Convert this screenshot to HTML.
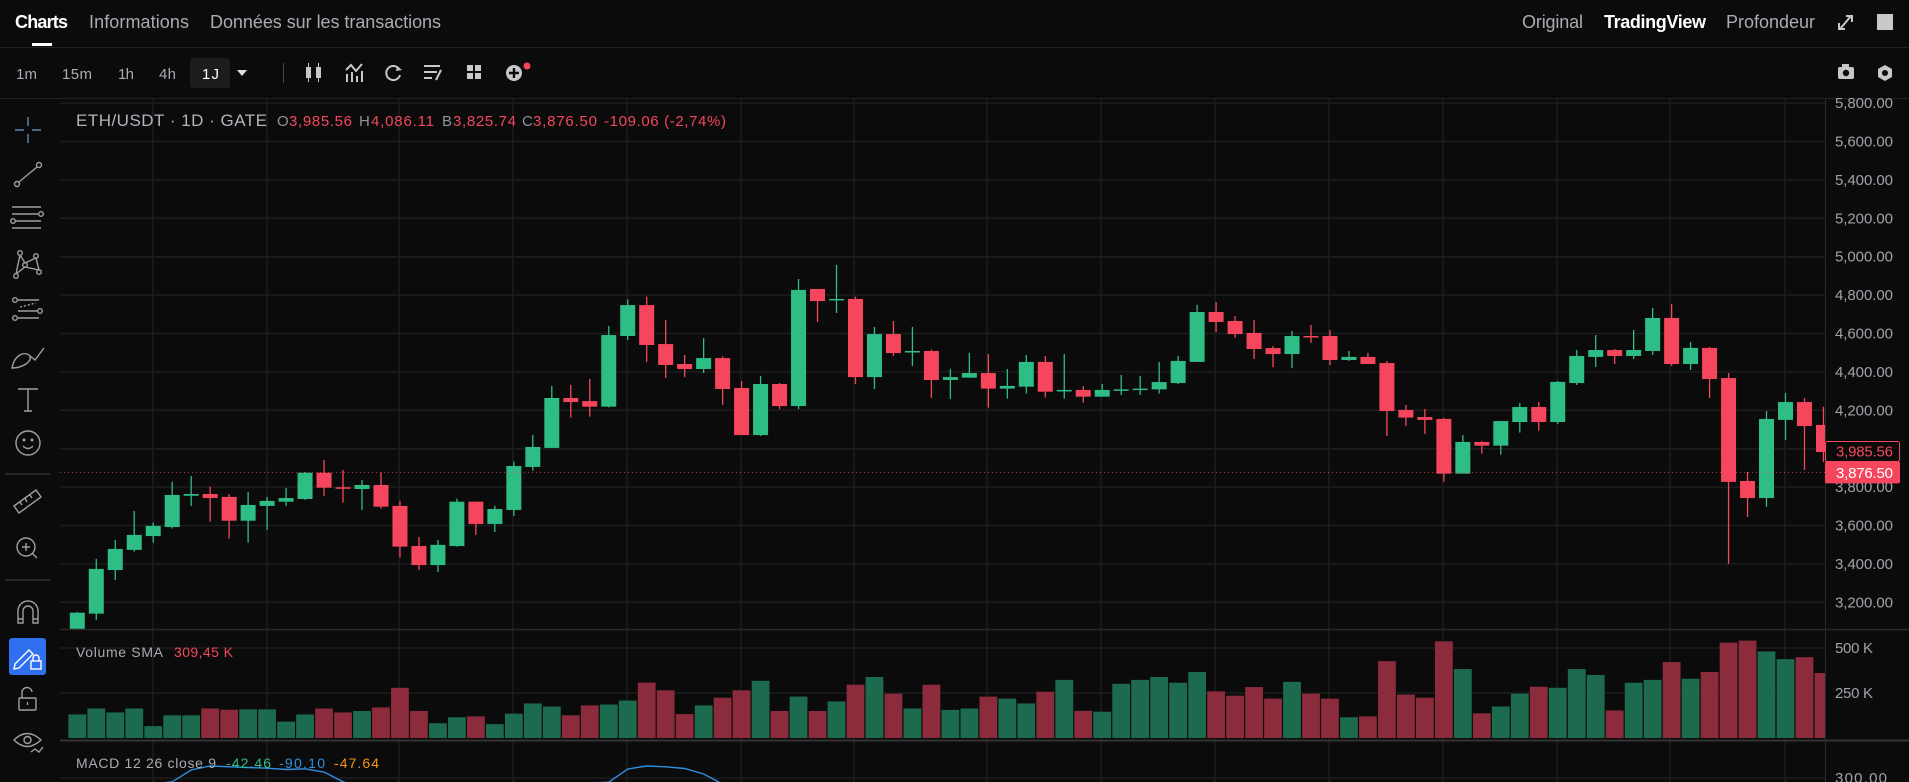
<!DOCTYPE html>
<html><head><meta charset="utf-8"><style>
html,body{margin:0;padding:0;background:#0b0b0b;overflow:hidden}
svg{display:block;font-family:"Liberation Sans",sans-serif}
</style></head><body>
<svg id="s" width="1909" height="782" viewBox="0 0 1909 782" xmlns="http://www.w3.org/2000/svg">
<rect x="0" y="0" width="1909" height="782" fill="#0b0b0b"/>
<!-- top nav -->
<g>
<text x="15" y="28" font-size="18" font-weight="bold" fill="#ffffff" textLength="53">Charts</text>
<rect x="32" y="43" width="20" height="3" fill="#ffffff"/>
<text x="89" y="28" font-size="18" fill="#a9acb3" textLength="100">Informations</text>
<text x="210" y="28" font-size="18" fill="#a9acb3" textLength="231">Données sur les transactions</text>
<text x="1522" y="28" font-size="18" fill="#a9acb3" textLength="61">Original</text>
<text x="1604" y="28" font-size="18" font-weight="bold" fill="#ffffff" textLength="102">TradingView</text>
<text x="1726" y="28" font-size="18" fill="#a9acb3" textLength="89">Profondeur</text>
<g stroke="#c8c8c8" stroke-width="2" fill="none"><path d="M1840 29 L1851 16 M1846 16 H1852 V22 M1839 23 V29 H1845"/></g>
<rect x="1877" y="14" width="16" height="16" fill="#c8c8c8"/>
<line x1="0" y1="47.5" x2="1909" y2="47.5" stroke="#222"/>
</g>
<!-- toolbar -->
<g font-size="15" fill="#a9acb3">
<text x="16" y="79" textLength="21">1m</text>
<text x="62" y="79" textLength="30">15m</text>
<text x="118" y="79" textLength="16">1h</text>
<text x="159" y="79" textLength="17">4h</text>
<rect x="190" y="58" width="40" height="30" rx="3" fill="#1c1c1c"/>
<text x="202" y="79" textLength="17" fill="#ffffff">1J</text>
<path d="M237 70 H247 L242 76 Z" fill="#e0e0e0"/>
<line x1="283.5" y1="63" x2="283.5" y2="83" stroke="#444"/>
<g fill="#c8c8c8"><rect x="306" y="67" width="5" height="11"/><rect x="316" y="67" width="5" height="11"/><rect x="308" y="63" width="1" height="19"/><rect x="318" y="63" width="1" height="19"/></g>
<g stroke="#c8c8c8" stroke-width="2" fill="none"><path d="M346 70 L351 65 L356 71 L362 64"/><path d="M347 82 V74 M352 82 V72 M357 82 V76 M362 82 V71"/></g>
<path d="M399 69 A7 7 0 1 0 400 75" stroke="#c8c8c8" stroke-width="2" fill="none"/>
<path d="M397 66 L402 70 L396 71 Z" fill="#c8c8c8"/>
<g stroke="#c8c8c8" stroke-width="2"><line x1="424" y1="66" x2="440" y2="66"/><line x1="424" y1="72" x2="437" y2="72"/><line x1="424" y1="78" x2="432" y2="78"/><line x1="441" y1="70" x2="436" y2="80"/></g>
<g fill="#c8c8c8"><rect x="467" y="65" width="6" height="6"/><rect x="475" y="65" width="6" height="6"/><rect x="467" y="73" width="6" height="6"/><rect x="475" y="73" width="6" height="6"/></g>
<g><circle cx="514" cy="73" r="8" fill="#c8c8c8"/><path d="M514 68 V78 M509 73 H519" stroke="#0b0b0b" stroke-width="2.4"/><circle cx="527" cy="66" r="3.5" fill="#f6465d"/></g>
<g><rect x="1838" y="67" width="16" height="12" rx="2" fill="#c8c8c8"/><rect x="1842" y="64" width="7" height="4" fill="#c8c8c8"/><circle cx="1846" cy="73" r="3.2" fill="#0b0b0b"/></g>
<g><path d="M1885 65 L1892 69 L1892 77 L1885 81 L1878 77 L1878 69 Z" fill="#c8c8c8"/><circle cx="1885" cy="73" r="3" fill="#0b0b0b"/></g>
<line x1="0" y1="98.5" x2="1909" y2="98.5" stroke="#222"/>
</g>
<!-- left drawing toolbar -->
<g stroke="#a0a0a0" stroke-width="1.4" fill="none">
<g stroke="#5f86b5"><path d="M28 117 V126 M28 134 V143 M15 130 H24 M32 130 H41"/></g>
<g><circle cx="17" cy="184" r="2.5"/><circle cx="39" cy="165" r="2.5"/><line x1="19" y1="182" x2="37" y2="167"/></g>
<g><line x1="12" y1="207" x2="41" y2="207"/><line x1="12" y1="214" x2="38" y2="214"/><line x1="16" y1="221" x2="41" y2="221"/><line x1="12" y1="228" x2="41" y2="228"/><circle cx="41" cy="214" r="2.3"/><circle cx="13" cy="221" r="2.3"/></g>
<g><circle cx="20" cy="253" r="2.3"/><circle cx="36" cy="256" r="2.3"/><circle cx="25" cy="265" r="2.3"/><circle cx="16" cy="276" r="2.3"/><circle cx="39" cy="272" r="2.3"/><path d="M20 255 L25 263 L36 258 L39 270 L25 267 L16 274 M20 255 L16 274"/></g>
<g><circle cx="15" cy="300" r="2.3"/><circle cx="40" cy="311" r="2.3"/><circle cx="15" cy="318" r="2.3"/><line x1="18" y1="300" x2="39" y2="300"/><line x1="18" y1="311" x2="37" y2="311"/><line x1="18" y1="318" x2="39" y2="318"/><line x1="20" y1="307" x2="36" y2="303" stroke-dasharray="2 2"/></g>
<g><path d="M12 368 C14 356 24 350 30 356 C32 362 22 368 12 368 Z"/><path d="M30 356 L35 360 L44 348"/></g>
<g><path d="M18 389 H38 M28 389 V411 M24 411 H32"/></g>
<g><circle cx="28" cy="443" r="12"/><circle cx="24" cy="440" r="0.8" fill="#a0a0a0"/><circle cx="32" cy="440" r="0.8" fill="#a0a0a0"/><path d="M23 446 Q28 451 33 446"/></g>
<line x1="5" y1="474" x2="50" y2="474" stroke="#333"/>
<g><path d="M14 506 L36 490 L41 497 L19 513 Z M20 502 L22 505 M25 498 L27 502 M30 495 L32 498"/></g>
<g><circle cx="26" cy="547" r="9"/><path d="M26 543 V551 M22 547 H30 M32 553 L37 558"/></g>
<line x1="5" y1="580" x2="50" y2="580" stroke="#333"/>
<g><path d="M18 623 V611 A10 10 0 0 1 38 611 V623 H33 V611 A5 5 0 0 0 23 611 V623 Z M18 619 H23 M33 619 H38"/></g>
<rect x="9" y="638" width="37" height="37" rx="3" fill="#2f6ff0" stroke="none"/>
<g stroke="#ffffff"><path d="M15 664 L29 650 L33 654 L19 668 L14 669 Z"/><rect x="31" y="661" width="10" height="8"/><path d="M33 661 V658 A3 3 0 0 1 39 658 V661"/></g>
<g><rect x="19" y="698" width="17" height="12" rx="1"/><path d="M22 698 V693 A5 5 0 0 1 32 692"/><line x1="27.5" y1="702" x2="27.5" y2="705"/></g>
<g><path d="M14 740 Q27 727 41 740 Q27 753 14 740 Z"/><circle cx="27.5" cy="740" r="3.5"/><path d="M31 752 L35 749 L39 752 L43 747"/></g>
</g>
<g id="plot"></g>
</svg>
<script>
// ===== data =====
const opens  = [3060,3141,3368,3473,3545,3592,3755,3764,3749,3625,3702,3724,3738,3875,3799,3790,3811,3702,3493,3394,3493,3724,3608,3681,3905,4004,4264,4248,4219,4587,4748,4545,4441,4415,4472,4316,4071,4337,4222,4832,4777,4780,4373,4597,4505,4509,4358,4370,4394,4313,4323,4452,4299,4306,4271,4306,4309,4309,4342,4452,4712,4665,4603,4524,4493,4587,4587,4462,4478,4446,4202,4165,4155,3870,4035,4016,4139,4217,4139,4342,4478,4514,4483,4509,4681,4441,4525,4368,3832,3743,4150,4243,4124,3985.56];
const highs  = [3150,3426,3525,3676,3615,3828,3858,3802,3764,3775,3749,3795,3879,3941,3889,3837,3877,3729,3540,3525,3740,3724,3703,3933,4071,4327,4332,4363,4639,4778,4792,4670,4488,4576,4481,4352,4379,4342,4884,4832,4957,4792,4634,4665,4634,4516,4415,4499,4493,4415,4488,4483,4493,4327,4337,4384,4379,4452,4483,4749,4764,4691,4670,4535,4613,4644,4618,4509,4499,4457,4228,4207,4160,4071,4040,4144,4238,4243,4353,4514,4592,4519,4618,4733,4754,4556,4530,4394,3879,4196,4290,4264,4219,4086.11];
const lows   = [3050,3108,3316,3464,3511,3584,3702,3620,3532,3511,3577,3702,3733,3754,3719,3681,3688,3433,3368,3358,3490,3551,3566,3650,3886,4004,4162,4167,4215,4566,4452,4368,4373,4394,4228,4071,4066,4206,4206,4660,4707,4337,4311,4483,4431,4264,4259,4370,4214,4261,4287,4266,4261,4240,4271,4280,4280,4287,4337,4452,4608,4577,4467,4425,4420,4551,4436,4457,4441,4066,4118,4077,3828,3870,3974,3969,4084,4094,4129,4332,4426,4441,4467,4488,4431,4410,4264,3400,3644,3697,4045,3889,3931,3825.74];
const closes = [3146,3374,3478,3551,3598,3759,3764,3743,3625,3707,3728,3743,3875,3797,3792,3811,3698,3490,3394,3499,3724,3608,3686,3910,4009,4264,4243,4219,4592,4748,4540,4436,4415,4472,4311,4071,4337,4222,4827,4769,4780,4373,4597,4498,4509,4358,4373,4394,4313,4327,4452,4297,4306,4271,4306,4309,4313,4347,4457,4712,4660,4597,4519,4493,4587,4582,4462,4478,4441,4196,4162,4150,3870,4035,4016,4144,4217,4139,4348,4483,4514,4483,4514,4681,4441,4525,4363,3827,3743,4155,4243,4118,3983,3876.50];
const volumes = [131,164,142,164,66,126,126,164,157,159,159,91,131,164,142,150,170,279,150,82,115,120,77,135,192,175,126,181,186,208,308,265,133,181,224,265,318,150,230,150,203,296,339,246,164,296,156,164,230,219,192,257,323,151,146,301,323,339,307,367,259,235,283,219,312,246,219,115,120,427,241,224,537,383,137,175,246,285,279,383,350,153,307,323,422,329,367,530,541,481,438,449,361,320];
const macd = [100,150,200,230,240,262,380,420,412,405,398,385,392,360,262,200,150,100,60,40,50,80,120,160,200,230,245,250,258,390,420,412,395,340,240,200,180,170,200,230,240,230,200,180,170,150,130,120,110,100,90,80,80,80,80,90,100,120,150,200,230,240,235,220,210,200,190,180,170,140,100,60,20,0,-10,-20,-20,-10,0,20,40,60,80,110,130,120,100,40,-20,-40,-50,-60,-70,-80];
const priceTicks = [3200,3400,3600,3800,4000,4200,4400,4600,4800,5000,5200,5400,5600,5800];
const priceTickLabels = ["3,200.00","3,400.00","3,600.00","3,800.00","4,000.00","4,200.00","4,400.00","4,600.00","4,800.00","5,000.00","5,200.00","5,400.00","5,600.00","5,800.00"];
const volTicks = [250,500];
const volTickLabels = ["250 K","500 K"];
const vGrid = [153,267,399,513,627,741,854,987,1101,1215,1329,1443,1557,1670,1785];
const lastClose = 3876.50, lastOpen = 3985.56;

// ===== scales =====
const PL=60, PR=1825, PT=99, PB=629, VB=740;
const x = i => 77.3 + i*18.98;
const yP = p => 602.3 - (p-3200)*0.192;
const yV = v => 738 - v*0.18;
const yM = v => 778 - (v-300)*0.1;
const GREEN="#2ebd85", RED="#f6465d", VGREEN="#1c6b4e", VRED="#8b2b3b";
const NS="http://www.w3.org/2000/svg";
const plot=document.getElementById('plot');
function mk(tag, attrs, parent){const e=document.createElementNS(NS,tag);for(const k in attrs)e.setAttribute(k,attrs[k]);(parent||plot).appendChild(e);return e;}

// clip paths
const defs=mk('defs',{});
const c1=mk('clipPath',{id:'cp'},defs); mk('rect',{x:PL,y:PT,width:PR-PL,height:PB-PT},c1);
const c2=mk('clipPath',{id:'cv'},defs); mk('rect',{x:PL,y:PB,width:PR-PL,height:VB-PB},c2);
const c3=mk('clipPath',{id:'cm'},defs); mk('rect',{x:PL,y:VB+1,width:PR-PL,height:782-VB},c3);

// grid
const grid=mk('g',{});


priceTicks.forEach(p=>{const l=mk('line',{x1:PL,x2:PR,y1:yP(p),y2:yP(p),stroke:'#1d1d1d','stroke-width':1.5},grid);
 
 });
volTicks.forEach(v=>{const l=mk('line',{x1:PL,x2:PR,y1:yV(v),y2:yV(v),stroke:'#1d1d1d','stroke-width':1.5},grid);
 
 });
vGrid.forEach(gx=>{const l=mk('line',{x1:gx,x2:gx,y1:PT,y2:782,stroke:'#1d1d1d','stroke-width':1.5},grid);
 
 });
mk('line',{x1:PL,x2:PR,y1:yM(300),y2:yM(300),stroke:'#1d1d1d','stroke-width':1.5},grid);

// candles
const cg=mk('g',{'clip-path':'url(#cp)'});


for(let i=0;i<opens.length;i++){
 const up=closes[i]>=opens[i], col=up?GREEN:RED, cx=x(i);
 const g=mk('g',{},cg);
 
 
 mk('line',{x1:cx,x2:cx,y1:yP(highs[i]),y2:yP(lows[i]),stroke:col,'stroke-width':1.3},g);
 const t=yP(Math.max(opens[i],closes[i])), b=yP(Math.min(opens[i],closes[i]));
 mk('rect',{x:cx-7.5,y:t,width:15,height:Math.max(1.5,b-t),fill:col},g);
}
// last price line
const lp=mk('line',{x1:PL,x2:PR,y1:yP(lastClose),y2:yP(lastClose),stroke:'#f6465d','stroke-width':1,'stroke-dasharray':'1 3',opacity:0.8});



// volume
const vg=mk('g',{'clip-path':'url(#cv)'});


for(let i=0;i<volumes.length;i++){
 const up=closes[i]>=opens[i];
 const r=mk('rect',{x:x(i)-8.9,y:yV(volumes[i]),width:17.8,height:738-yV(volumes[i]),fill:up?VGREEN:VRED},vg);
 
 
}
// macd
const mg=mk('g',{'clip-path':'url(#cm)'});
const pts=macd.map((v,i)=>x(i)+','+yM(v)).join(' ');
const ml=mk('polyline',{points:pts,fill:'none',stroke:'#2f8fe0','stroke-width':1.4},mg);



// pane separators & axis
mk('line',{x1:PL,x2:1909,y1:PB+0.5,y2:PB+0.5,stroke:'#2a2a2a','stroke-width':1.5});
mk('line',{x1:PL,x2:1909,y1:VB+0.5,y2:VB+0.5,stroke:'#333','stroke-width':2});
mk('line',{x1:PR+0.5,x2:PR+0.5,y1:PT,y2:782,stroke:'#2a2a2a','stroke-width':1});

// axis labels
const ax=mk('g',{'font-size':15,fill:'#a0a3aa'});


priceTicks.forEach((p,i)=>{const t=mk('text',{x:1835,y:yP(p)+5,textLength:58},ax);t.textContent=priceTickLabels[i];
 
 });
volTicks.forEach((v,i)=>{const t=mk('text',{x:1835,y:yV(v)+5,textLength:38},ax);t.textContent=volTickLabels[i];
 
 });
const mt=mk('text',{x:1835,y:yM(300)+5,textLength:52},ax);mt.textContent="300.00";



// price tags
const ob=mk('rect',{x:1825.5,y:yP(lastOpen)-10,width:74,height:20,rx:2,fill:'#0b0b0b',stroke:'#f6465d','stroke-width':1});


const ot=mk('text',{x:1836,y:yP(lastOpen)+5,'font-size':15,fill:'#f6465d',textLength:57});ot.textContent="3,985.56";
const cb=mk('rect',{x:1825,y:yP(lastClose)-11,width:75,height:22,rx:2,fill:'#f6465d'});


const ct=mk('text',{x:1836,y:yP(lastClose)+5.5,'font-size':15,fill:'#ffffff',textLength:57});ct.textContent="3,876.50";

// legends
function txt(s,xx,yy,col,len,size,name){const t=mk('text',{x:xx,y:yy,fill:col,'font-size':size||15,textLength:len});t.textContent=s;
 
 return t;}
txt("ETH/USDT · 1D · GATE",76,126,'#b2b5be',191,17,'symbol-title');
const G='#8f939b';
txt("O",277,126,G,12,15,'open-label');txt("3,985.56",289,126,RED,63,15,'open-value');
txt("H",359,126,G,12,15,'high-label');txt("4,086.11",371,126,RED,63,15,'high-value');
txt("B",442,126,G,11,15,'low-label');txt("3,825.74",453,126,RED,63,15,'low-value');
txt("C",522,126,G,11,15,'close-label');txt("3,876.50",533,126,RED,64,15,'close-value');
txt("-109.06 (-2,74%)",604,126,RED,122,15,'change-value');
txt("Volume SMA",76,657,'#a9acb3',87,14,'volume-legend-title');
txt("309,45 K",174,657,RED,59,14,'volume-legend-value');
txt("MACD 12 26 close 9",76,768,'#a9acb3',140,14,'macd-legend-title');
txt("-42.46",226,768,GREEN,45,14,'macd-histogram-value');
txt("-90.10",279,768,'#2f8fe0',46,14,'macd-line-value');
txt("-47.64",334,768,'#f7931a',45,14,'macd-signal-value');
</script>
</body></html>
